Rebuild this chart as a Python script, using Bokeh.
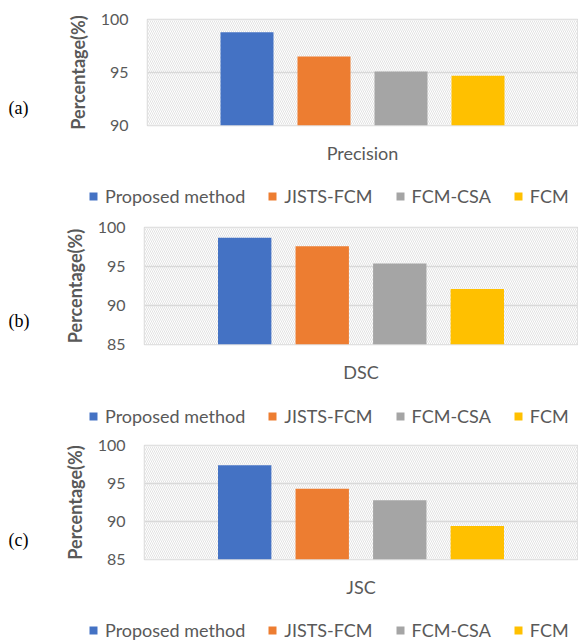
from bokeh.plotting import figure
from bokeh.models import (FactorRange, Range1d, BoxAnnotation, Legend, Label,
                          LegendItem, FixedTicker, ColumnDataSource)
from bokeh.transform import dodge
from bokeh.layouts import column, row
from bokeh.embed import file_html
from bokeh.resources import INLINE

# ---- data ----
methods = ["Proposed method", "JISTS-FCM", "FCM-CSA", "FCM"]
metrics = ["Precision", "DSC", "JSC"]
panel_tags = ["(a)", "(b)", "(c)"]
precision = [98.8, 96.5, 95.1, 94.7]
dsc = [98.7, 97.6, 95.4, 92.1]
jsc = [97.4, 94.3, 92.8, 89.4]
y_starts = [90, 85, 85]
y_end = 100
y_ticks = [[90, 95, 100], [85, 90, 95, 100], [85, 90, 95, 100]]
y_title = "Percentage(%)"

# ---- style ----
colors = ["#4472C4", "#ED7D31", "#A5A5A5", "#FFC000"]
TXT = "#595959"
GRID = "#d9d9d9"
FONT = "Lato"
W = 578
TAG_W = 60
LEG_X = 88

# per-panel layout in pixels
layouts = [
    dict(h=166, top=19, fh=109, left=147, tag_y=18, leg_h=44, leg_y=3),
    dict(h=175, top=17, fh=120, left=144, tag_y=24, leg_h=45, leg_y=3),
    dict(h=170, top=15, fh=117, left=144, tag_y=20, leg_h=44, leg_y=3),
]

step = 77 / 430
bar_w = 53 / 430
offsets = [(i - 1.5) * step for i in range(len(methods))]


def bare_fig(w, h):
    f = figure(width=w, height=h, x_range=Range1d(0, 1), y_range=Range1d(0, 1),
               x_axis_type=None, y_axis_type=None, output_backend="svg",
               toolbar_location=None, min_border=0)
    f.outline_line_color = None
    f.background_fill_color = "white"
    f.border_fill_color = "white"
    f.xgrid.visible = False
    f.ygrid.visible = False
    return f


def make_panel(k, values):
    L = layouts[k]
    metric = metrics[k]
    ystart = y_starts[k]

    # --- left strip with the panel tag ---
    lf = bare_fig(TAG_W, L["h"])
    lf.add_layout(Label(x=8, y=L["tag_y"], x_units="screen", y_units="screen",
                        text=panel_tags[k], text_align="left", text_baseline="middle",
                        text_font="Liberation Serif", text_font_size="18px",
                        text_color="black"))

    # --- bar chart ---
    p = figure(width=W - TAG_W, height=L["h"],
               x_range=FactorRange(factors=[metric], range_padding=0),
               y_range=Range1d(ystart, y_end), output_backend="svg", toolbar_location=None,
               min_border_top=L["top"], min_border_left=L["left"] - TAG_W,
               min_border_right=1, min_border_bottom=L["h"] - L["top"] - L["fh"])
    p.background_fill_color = "white"
    p.border_fill_color = "white"
    p.outline_line_color = GRID
    p.outline_line_width = 1.5

    p.add_layout(BoxAnnotation(fill_color="white", fill_alpha=1.0, line_color=None,
                               hatch_pattern="\\", hatch_color="#d6d6d6",
                               hatch_scale=4, hatch_weight=0.7, level="image"))

    for i in range(len(methods)):
        src = ColumnDataSource(dict(x=[metric], top=[values[i]]))
        p.vbar(x=dodge("x", offsets[i], range=p.x_range), top="top", bottom=ystart,
               width=bar_w, source=src, fill_color=colors[i], line_color=None)

    p.xgrid.visible = False
    p.ygrid.ticker = FixedTicker(ticks=y_ticks[k])
    p.ygrid.grid_line_color = GRID
    p.ygrid.grid_line_width = 1.5

    ya = p.yaxis[0]
    ya.ticker = FixedTicker(ticks=y_ticks[k])
    ya.axis_line_color = None
    ya.major_tick_line_color = None
    ya.minor_tick_line_color = None
    ya.major_tick_out = 0
    ya.major_tick_in = 0
    ya.major_label_standoff = 19
    ya.major_label_text_font = FONT
    ya.major_label_text_font_size = "16px"
    ya.major_label_text_color = TXT
    ya.axis_label = y_title
    ya.axis_label_standoff = 9
    ya.axis_label_text_font = FONT
    ya.axis_label_text_font_style = "bold"
    ya.axis_label_text_font_size = "18px"
    ya.axis_label_text_color = TXT

    xa = p.xaxis[0]
    xa.axis_line_color = None
    xa.major_tick_line_color = None
    xa.major_tick_out = 0
    xa.major_tick_in = 0
    xa.major_label_standoff = 16
    xa.major_label_text_font = FONT
    xa.major_label_text_font_size = "18px"
    xa.major_label_text_color = TXT

    # --- legend strip ---
    lg = bare_fig(W, L["leg_h"])
    items = []
    for i, m in enumerate(methods):
        r = lg.vbar(x=[0.5], top=[0.0], bottom=[0.0], width=0.0,
                    fill_color=colors[i], line_color=None)
        items.append(LegendItem(label=m, renderers=[r]))
    lg.add_layout(Legend(items=items, orientation="horizontal", location=(LEG_X, L["leg_y"]),
                         padding=0, margin=0, spacing=22, label_standoff=7,
                         glyph_width=10, glyph_height=10, label_height=20,
                         label_text_font=FONT, label_text_font_size="18px",
                         label_text_color=TXT, border_line_color=None,
                         background_fill_alpha=0))

    return column(row(lf, p, spacing=0), lg, spacing=0)


layout = column(make_panel(0, precision), make_panel(1, dsc), make_panel(2, jsc), spacing=0)

open("out.html", "w").write(file_html(layout, INLINE))
